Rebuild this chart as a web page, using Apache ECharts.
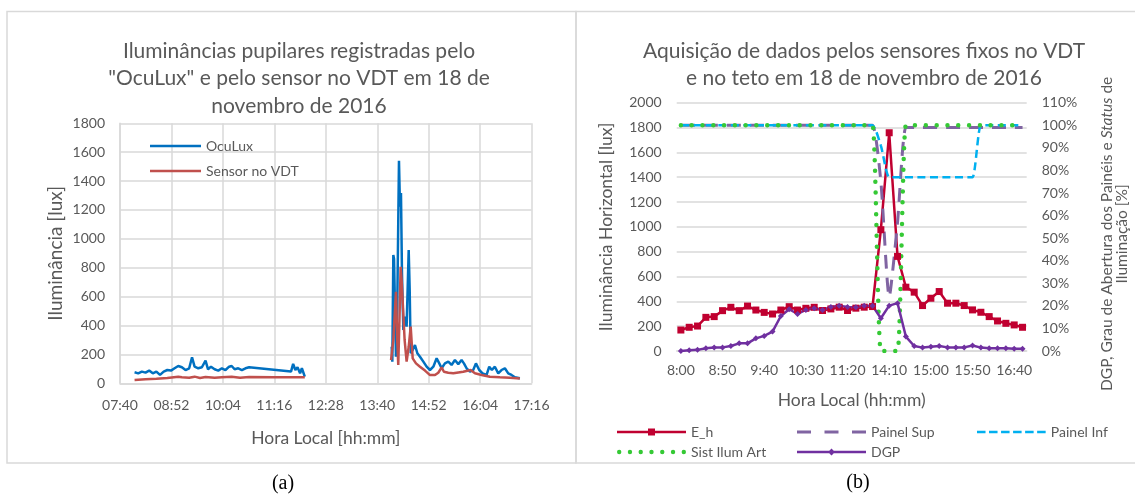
<!DOCTYPE html>
<html><head><meta charset="utf-8">
<script src="https://cdn.jsdelivr.net/npm/echarts@6/dist/echarts.min.js"></script>
<style>html,body{margin:0;padding:0;background:#fff}#c{width:1135px;height:495px}</style>
</head><body><div id="c"></div>
<script>
// ---------- Chart (a): pupil illuminance ----------
const leftTickLabels = ['07:40','08:52','10:04','11:16','12:28','13:40','14:52','16:04','17:16'];
const leftYTicks = [0, 200, 400, 600, 800, 1000, 1200, 1400, 1600, 1800];
// times in minutes since midnight (null value = gap in the record)
const oculuxTimes = [480.4,485.5,490.6,495.7,500.8,505.9,510.9,516,521.1,526.2,531.3,536.4,541.5,546.6,551.7,556.8,560.8,564.4,569.5,574.6,579.7,583.2,587.3,592.4,597.5,602.6,607.6,612.7,616.3,620.4,625.5,630.6,635.6,640.7,699.3,702.3,705.4,708.4,712,714.5,717,718.6,
  780,
  840.2,841.1,842.5,843.5,846.2,848,850.4,851.8,853.2,854.6,856.5,859.3,861.1,864,865.4,866.8,869.6,872.8,876.1,879.8,884.5,889.1,893.8,898.5,903.1,906.8,910.1,914.7,919.4,924,928.7,933.4,938,941.3,945,949.7,954.3,958.1,962.7,967.4,973,976.7,980.4,984.6,989.3,993.9,998.6,1003.3,1007.9,1012.6,1019.6];
const oculuxValues = [76,69,81,74,88,69,81,58,81,92,88,104,120,111,92,104,180,115,104,111,157,97,115,97,88,104,92,115,120,97,104,92,104,111,81,134,92,111,69,104,110,46,
  null,
  253,150,888,860,184,530,1541,1223,1317,761,369,461,392,923,646,208,231,265,208,184,150,115,92,115,173,138,104,138,150,127,161,133,161,138,104,80,92,138,92,69,58,115,92,115,69,92,104,69,58,42,35];
const sensorTimes = [480.4,495.7,510.9,526.2,541.5,546.6,556.8,564.4,572,579.7,592.4,602.6,616.3,628,640.7,674.6,699.3,718.6,
  780,
  839.3,842.5,846.2,848,849.4,851.3,852.7,854.1,855.5,858.3,861.1,864,866.8,869.6,874.2,879.8,886.8,893.8,900.8,905.4,910.1,913.3,919.4,926.4,933.4,940.3,950.6,956.7,966,977.6,991.6,1005.6,1019.6];
const sensorValues = [23,28,32,37,46,42,39,46,37,44,39,42,46,39,44,42,42,42,
  null,
  161,300,634,300,127,485,807,715,577,300,150,253,392,173,138,115,88,57,57,73,110,80,73,69,75,80,92,69,58,46,42,39,33];

// ---------- Chart (b): fixed sensors ----------
const rightCategories = ['8:00','8:10','8:20','8:30','8:40','8:50','9:00','9:10','9:20','9:30','9:40','9:50','10:00','10:10','10:20','10:30','10:40','10:50','11:00','11:10','11:20','11:30','11:40','11:50','14:00','14:10','14:20','14:30','14:40','14:50','15:00','15:10','15:20','15:30','15:40','15:50','16:00','16:10','16:20','16:30','16:40','16:50'];
const eh = [169,191,201,271,277,325,352,325,362,330,311,298,330,357,330,344,352,326,339,353,326,345,353,358,977,1758,762,514,474,366,425,479,385,385,366,331,312,277,242,223,210,191];
const painelSup = [100,100,100,100,100,100,100,100,100,100,100,100,100,100,100,100,100,100,100,100,100,100,100,100,75,24,57,99,99,99,99,99,99,99,99,99,99,99,99,99,99,99];
const painelInf = [100,100,100,100,100,100,100,100,100,100,100,100,100,100,100,100,100,100,100,100,100,100,100,100,91,77,77,77,77,77,77,77,77,77,77,77,100,100,100,100,100,100];
const sistIlumArt = [100,100,100,100,100,100,100,100,100,100,100,100,100,100,100,100,100,100,100,100,100,100,100,100,0,0,0,100,100,100,100,100,100,100,100,100,100,100,100,100,100,100];
const dgp = [0,0.3,0.5,1.2,1.6,1.6,2.2,3.4,3.4,5.6,6.7,8.6,15.5,18.5,16.4,18.2,18.9,18.2,19.5,20.1,19.5,19.4,20,20,14.5,20.1,21.2,6.4,2.2,1.5,1.9,2.2,1.6,1.6,1.6,2.4,1.5,1.2,1.2,1.2,1.0,1.0];

// ---------- helpers ----------
function toMin(s){const p=s.split(':');return (+p[0])*60+(+p[1]);}
const axisStart = toMin(leftTickLabels[0]);
const axisStep = toMin(leftTickLabels[1]) - axisStart;
const axisEnd = toMin(leftTickLabels[leftTickLabels.length-1]) - axisStart;
function pairs(ts, vs){return ts.map((t,i)=>[t-axisStart, vs[i]]);}

// legend icon paths (drawn as filled shapes)
function rects(xs, w, y, h){return xs.map(x=>'M'+x+','+y+'H'+(x+w)+'V'+(y+h)+'H'+x+'Z').join(' ');}
function dots(xs, r, cy){return xs.map(x=>'M'+(x-r)+','+cy+'a'+r+','+r+' 0 1,0 '+(2*r)+',0a'+r+','+r+' 0 1,0 '+(-2*r)+',0Z').join(' ');}
const iconSolidLeft = 'path://' + rects([0], 51, 0, 2.5);
const iconEh = 'path://' + rects([0], 69, 3.25, 2.5) + ' M31,1H38V8H31Z';
const iconDgp = 'path://' + rects([0], 69, 3.25, 2.5) + ' M34.5,1L38,4.5L34.5,8L31,4.5Z';
const iconSup = 'path://' + rects([0, 27.5, 55], 14, 3, 3) + ' M0,0.01H0.01V0.02H0Z M69,8.98H68.99V8.99H69Z';
const iconInf = 'path://' + rects([0, 12, 24, 36, 48, 60], 8.5, 3.25, 2.5) + ' M0,0.01H0.01V0.02H0Z M68.5,8.98H68.49V8.99H68.5Z';
const iconSist = 'path://' + dots([2.2, 13, 23.8, 34.6, 45.4, 56.2, 67], 2.2, 4.5) + ' M0,0.01H0.01V0.02H0Z M69,8.98H68.99V8.99H69Z';

const FONT = 'Lato';
const TXT = '#595959';
const GRID = '#D9D9D9';
const lbl = {color:TXT, fontFamily:FONT, fontSize:14};
const plain = v => String(v);

const chart = echarts.init(document.getElementById('c'), null, {renderer:'canvas'});
chart.setOption({
  animation:false,
  backgroundColor:'#fff',
  title:[
    {text:'Iluminâncias pupilares registradas pelo\n"OcuLux" e pelo sensor no VDT em 18 de\nnovembro de 2016',
     left:294, top:32, textAlign:'center',
     textStyle:{color:TXT, fontFamily:FONT, fontSize:21, fontWeight:'normal', lineHeight:27.5}},
    {text:'Aquisição de dados pelos sensores fixos no VDT\ne no teto em 18 de novembro de 2016',
     left:859, top:32, textAlign:'center',
     textStyle:{color:TXT, fontFamily:FONT, fontSize:21, fontWeight:'normal', lineHeight:27.5}}
  ],
  graphic:[
    {type:'rect', shape:{x:7, y:11.5, width:569, height:451.5}, style:{fill:null, stroke:GRID, lineWidth:1.5}, silent:true},
    {type:'rect', shape:{x:576, y:11.5, width:570, height:451.5}, style:{fill:null, stroke:GRID, lineWidth:1.5}, silent:true},
    {type:'text', x:283, y:484, style:{text:'(a)', fill:'#000', font:'20px "Liberation Serif"', textAlign:'center', textVerticalAlign:'middle'}},
    {type:'text', x:858, y:483, style:{text:'(b)', fill:'#000', font:'20px "Liberation Serif"', textAlign:'center', textVerticalAlign:'middle'}}
  ],
  legend:[
    {data:[{name:'OcuLux', icon:iconSolidLeft},{name:'Sensor no VDT', icon:iconSolidLeft}], orient:'vertical', left:145, top:134, itemWidth:51, itemHeight:14, itemGap:11, textStyle:lbl, selectedMode:false},
    {data:[{name:'E_h', icon:iconEh}], left:612, top:420, itemWidth:69, itemHeight:9, itemGap:5, textStyle:lbl, selectedMode:false},
    {data:[{name:'Painel Sup', icon:iconSup}], left:792, top:420, itemWidth:69, itemHeight:9, textStyle:lbl, selectedMode:false},
    {data:[{name:'Painel Inf', icon:iconInf}], left:972, top:420, itemWidth:69, itemHeight:9, textStyle:lbl, selectedMode:false},
    {data:[{name:'Sist Ilum Art', icon:iconSist}], left:612, top:440, itemWidth:69, itemHeight:9, textStyle:lbl, selectedMode:false},
    {data:[{name:'DGP', icon:iconDgp}], left:792, top:440, itemWidth:69, itemHeight:9, textStyle:lbl, selectedMode:false}
  ],
  grid:[
    {left:120, top:123.3, width:411.6, height:260, outerBoundsMode:'none', containLabel:false},
    {left:676.7, top:102.7, width:350, height:248.3, outerBoundsMode:'none', containLabel:false}
  ],
  xAxis:[
    {gridIndex:0, type:'value', min:0, max:axisEnd, interval:axisStep,
     axisLine:{show:true, lineStyle:{color:GRID, width:1.5}}, axisTick:{show:false},
     splitLine:{show:true, lineStyle:{color:GRID, width:1.5}},
     axisLabel:Object.assign({margin:15, formatter:v=>leftTickLabels[Math.round(v/axisStep)]||''}, lbl),
     name:'Hora Local [hh:mm]', nameLocation:'middle', nameGap:46,
     nameTextStyle:{color:TXT, fontFamily:FONT, fontSize:17.5}},
    {gridIndex:1, type:'category', data:rightCategories, boundaryGap:true,
     axisLine:{show:true, lineStyle:{color:GRID, width:1.5}}, axisTick:{show:false},
     splitLine:{show:false},
     axisLabel:Object.assign({margin:12, interval:4}, lbl),
     name:'Hora Local (hh:mm)', nameLocation:'middle', nameGap:40,
     nameTextStyle:{color:TXT, fontFamily:FONT, fontSize:17.5}}
  ],
  yAxis:[
    {gridIndex:0, type:'value', min:leftYTicks[0], max:leftYTicks[leftYTicks.length-1], interval:leftYTicks[1]-leftYTicks[0],
     axisLine:{show:true, lineStyle:{color:GRID, width:1.5}}, axisTick:{show:false},
     splitLine:{show:true, lineStyle:{color:GRID, width:1.5}},
     axisLabel:Object.assign({margin:15, formatter:plain}, lbl),
     name:'Iluminância [lux]', nameLocation:'middle', nameGap:55, nameRotate:90,
     nameTextStyle:{color:TXT, fontFamily:FONT, fontSize:19}},
    {gridIndex:1, type:'value', min:0, max:2000, interval:200, position:'left',
     axisLine:{show:false}, axisTick:{show:false},
     splitLine:{show:true, lineStyle:{color:GRID, width:1.5}},
     axisLabel:Object.assign({margin:15, formatter:plain}, lbl),
     name:'Iluminância Horizontal [lux]', nameLocation:'middle', nameGap:61, nameRotate:90,
     nameTextStyle:{color:TXT, fontFamily:FONT, fontSize:17.5}},
    {gridIndex:1, type:'value', min:0, max:110, interval:10, position:'right',
     axisLine:{show:false}, axisTick:{show:false}, splitLine:{show:false},
     axisLabel:Object.assign({margin:15, formatter:'{value}%'}, lbl),
     name:'{a|DGP, Grau de Abertura dos Painéis e }{i|Status}{a| de}\n{a|Iluminação [%]}',
     nameLocation:'middle', nameGap:73, nameRotate:90,
     nameTextStyle:{color:TXT, fontFamily:FONT, fontSize:15.5, lineHeight:15, padding:[0,14,0,0],
       rich:{a:{color:TXT, fontFamily:FONT, fontSize:15.5, lineHeight:15},
             i:{color:TXT, fontFamily:FONT, fontSize:15.5, lineHeight:15, fontStyle:'italic'}}}}
  ],
  series:[
    {name:'OcuLux', type:'line', xAxisIndex:0, yAxisIndex:0, data:pairs(oculuxTimes, oculuxValues),
     showSymbol:false, symbol:'none', lineStyle:{color:'#0070C0', width:2.5}, itemStyle:{color:'#0070C0'}, connectNulls:false},
    {name:'Sensor no VDT', type:'line', xAxisIndex:0, yAxisIndex:0, data:pairs(sensorTimes, sensorValues),
     showSymbol:false, symbol:'none', lineStyle:{color:'#C0504D', width:2.5}, itemStyle:{color:'#C0504D'}, connectNulls:false},
    {name:'E_h', type:'line', xAxisIndex:1, yAxisIndex:1, data:eh, showAllSymbol:true,
     symbol:'rect', symbolSize:7, lineStyle:{color:'#C00030', width:2.5}, itemStyle:{color:'#C00030'}},
    {name:'Painel Sup', type:'line', xAxisIndex:1, yAxisIndex:2, data:painelSup, smooth:0.2,
     symbol:'none', lineStyle:{color:'#8064A2', width:3, type:[14,9]}, itemStyle:{color:'#8064A2'}},
    {name:'Painel Inf', type:'line', xAxisIndex:1, yAxisIndex:2, data:painelInf, smooth:0.2,
     symbol:'none', lineStyle:{color:'#00B0F0', width:2.5, type:[8,4.5]}, itemStyle:{color:'#00B0F0'}},
    {name:'Sist Ilum Art', type:'line', xAxisIndex:1, yAxisIndex:2, data:sistIlumArt, smooth:0.2,
     symbol:'none', lineStyle:{color:'#35C935', width:4.5, type:[0,10.8], cap:'round'}, itemStyle:{color:'#35C935'}},
    {name:'DGP', type:'line', xAxisIndex:1, yAxisIndex:2, data:dgp, showAllSymbol:true,
     symbol:'diamond', symbolSize:6, lineStyle:{color:'#7030A0', width:2.5}, itemStyle:{color:'#7030A0'}}
  ]
});
</script></body></html>
